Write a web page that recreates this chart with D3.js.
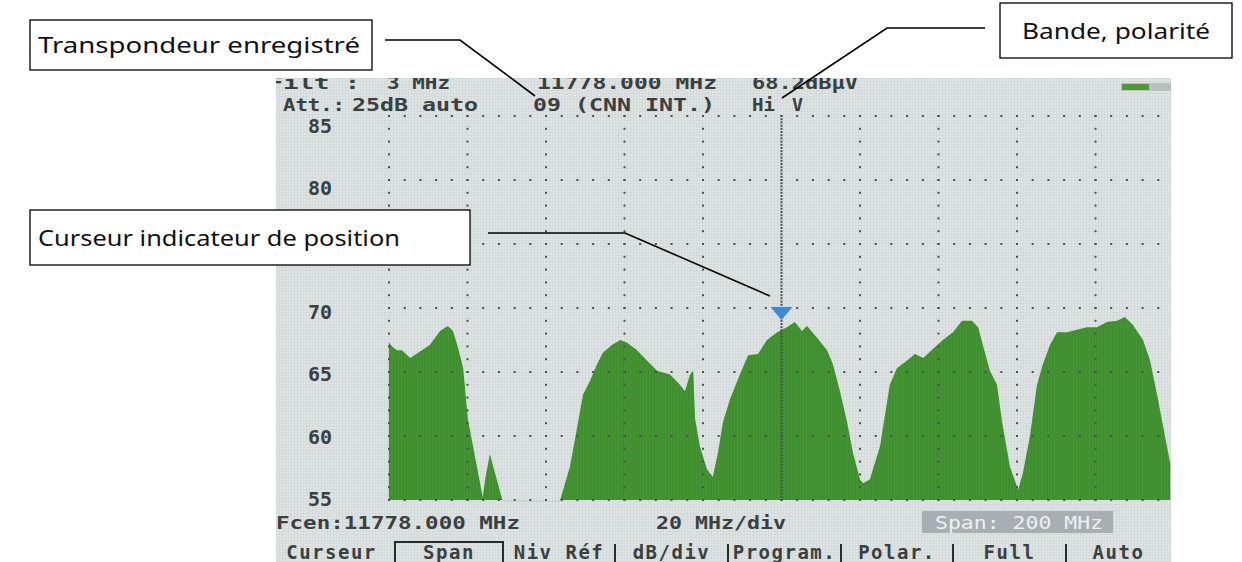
<!DOCTYPE html>
<html>
<head>
<meta charset="utf-8">
<script src="https://cdn.jsdelivr.net/npm/d3@7"></script>
<style>
  body { margin: 0; background: #fff; }
  .lcd { font-family: "DejaVu Sans Mono", "Liberation Mono", monospace; fill: #3a3f3f; font-weight: bold; }
  .note { font-family: "Comic Sans MS", "Noto Sans", sans-serif; fill: #111; }
</style>
</head>
<body>
<svg id="chart" width="1242" height="562"></svg>
<script>
// spectrum: offset from span start (MHz) and level (dBµV)
var freqOffsets = [0, 0.8, 2.0, 3.3, 5.4, 7.9, 10.4, 13.0, 15.0, 16.3, 17.6, 18.9, 20.1, 22.4, 23.9, 24.5, 25.7, 27.0, 28.8,
                   29.0, 43.6, 44.1, 46.1, 47.9, 49.4, 51.2, 53.0, 54.5, 56.8, 58.9, 60.6, 63.2, 65.7, 68.3, 71.6,
                   74.1, 75.4, 76.7, 77.5, 78.0, 79.2, 81.0, 82.5, 83.8, 85.1, 86.9, 89.4, 91.5, 94.0, 96.3, 98.9,
                   101.4, 103.4, 105.2, 106.5, 109.0, 111.6, 113.1, 114.9, 116.7, 118.2, 120.0, 120.8, 122.5, 125.1,
                   127.6, 129.4, 132.0, 134.0, 136.1, 138.6, 141.1, 143.7, 146.0, 148.5, 150.1, 151.3, 153.1, 154.9,
                   156.2, 158.2, 160.3, 161.5, 163.3, 165.1, 166.6, 168.4, 170.2, 172.7, 175.3, 177.8, 180.4, 182.9,
                   185.5, 187.5, 189.5, 192.1, 193.9, 195.7, 197.2, 199.0];
var levels = [67.3, 67.0, 66.7, 66.7, 66.1, 66.6, 67.1, 68.2, 68.6, 68.2, 66.9, 65.3, 61.3, 57.6, 55.2, 56.6, 58.6, 57.1, 55.1,
              55.0, 55.0, 55.5, 57.6, 60.6, 63.2, 64.3, 65.6, 66.5, 67.1, 67.5, 67.3, 66.7, 65.9, 65.1, 64.8,
              64.0, 63.5, 64.8, 65.1, 61.3, 59.2, 57.4, 56.8, 58.7, 61.1, 62.9, 64.8, 66.3, 66.4, 67.5, 68.1,
              68.5, 68.9, 68.2, 68.6, 67.7, 66.7, 65.6, 63.5, 61.1, 58.7, 56.6, 56.3, 56.6, 59.2,
              64.0, 65.3, 65.9, 66.4, 66.1, 66.8, 67.5, 68.1, 69.0, 69.0, 68.5, 67.1, 65.1, 64.0,
              61.1, 57.6, 55.8, 57.1, 60.0, 64.0, 65.6, 67.1, 68.1, 68.1, 68.3, 68.5, 68.5, 68.9,
              69.0, 69.3, 68.7, 67.5, 65.9, 63.2, 60.8, 57.9];

var centerFreq = 11778, spanMHz = 200, mhzPerDiv = 20;
var levelTicks = [55, 60, 65, 70, 75, 80, 85];
var levelLabels = [55, 60, 65, 70, 80, 85];   // 75 sits under the cursor note

var headerRow1 = [["Filt :", 268, 92], ["3 MHz", 387, 63], ["11778.000 MHz", 537, 180], ["68.2dBµV", 752, 106]];
var headerRow2 = [["Att.:", 283, 62], ["25dB auto", 352, 126], ["09 (CNN INT.)", 533, 182], ["Hi", 752, 23], ["V", 792, 11]];
var buttonLabels = ["Curseur", "Span", "Niv Réf", "dB/div", "Program.", "Polar.", "Full", "Auto"];
var notes = ["Transpondeur enregistré", "Bande, polarité", "Curseur indicateur de position"];

var svg = d3.select("#chart");
var startFreq = centerFreq - spanMHz / 2;

var x = d3.scaleLinear().domain([startFreq, startFreq + spanMHz]).range([389, 1174]);
var y = d3.scaleLinear().domain([55, 85]).range([500, 116]);
// the printed level labels run on a slightly tighter pitch than the grid
var yLab = d3.scaleLinear().domain([55, 85]).range([498, 125]);

var spectrum = freqOffsets.map(function (o, i) { return { f: startFreq + o, db: levels[i] }; });

// screen background + lcd pixel texture
var defs = svg.append("defs");
defs.append("clipPath").attr("id", "screen").append("rect")
    .attr("x", 276).attr("y", 78).attr("width", 895).attr("height", 484);
var pat = defs.append("pattern").attr("id", "pix").attr("width", 3).attr("height", 3)
    .attr("patternUnits", "userSpaceOnUse");
pat.append("rect").attr("width", 3).attr("height", 3).attr("fill", "#dfe5e4");
pat.append("path").attr("d", "M0,0.5H3M0.5,0V3").attr("stroke", "#d3dad9").attr("stroke-width", 1);

var screen = svg.append("g").attr("clip-path", "url(#screen)");
screen.append("rect").attr("x", 276).attr("y", 78).attr("width", 895).attr("height", 484).attr("fill", "url(#pix)");

// spectrum
var area = d3.area()
    .x(function (d) { return x(d.f); })
    .y0(y(55))
    .y1(function (d) { return y(d.db); });

screen.append("path").datum(spectrum).attr("d", area).attr("fill", "#3f8f2f");

function interp(f) {
    var i = d3.bisector(function (d) { return d.f; }).left(spectrum, f);
    if (i <= 0) return spectrum[0].db;
    if (i >= spectrum.length) return spectrum[spectrum.length - 1].db;
    var a = spectrum[i - 1], b = spectrum[i], t = (f - a.f) / (b.f - a.f);
    return a.db + t * (b.db - a.db) - 0.15;
}

// thin light columns like the analyser's bars
var colF = d3.range(startFreq, startFreq + spanMHz, 0.8);
screen.append("g").selectAll("line").data(colF).enter().append("line")
    .attr("x1", function (d) { return x(d); }).attr("x2", function (d) { return x(d); })
    .attr("y1", y(55)).attr("y2", function (d) { return y(Math.min(85, interp(d))); })
    .attr("stroke", "#5aa548").attr("stroke-width", 0.6).attr("opacity", 0.6);

// dotted grid
var grid = screen.append("g").attr("fill", "#4a4f50");
var hDots = [];
levelTicks.forEach(function (lv) {
    d3.range(startFreq, startFreq + spanMHz + 0.1, mhzPerDiv / 5).forEach(function (f) { hDots.push([f, lv]); });
});
var vDots = [];
d3.range(startFreq, startFreq + spanMHz + 0.1, mhzPerDiv).forEach(function (f) {
    var step = f === centerFreq ? 0.25 : 1;
    d3.range(55, 85.01, step).forEach(function (lv) { vDots.push([f, lv]); });
});
grid.selectAll("rect.dot").data(hDots.concat(vDots)).enter().append("rect")
    .attr("class", "dot")
    .attr("x", function (d) { return x(d[0]) - 1; })
    .attr("y", function (d) { return y(d[1]) - 1; })
    .attr("width", 2).attr("height", 2);

// level labels
var yAxis = d3.axisLeft(yLab).tickValues(levelLabels).tickSize(0).tickPadding(0);
var ax = screen.append("g").attr("transform", "translate(332,0)").call(yAxis);
ax.select(".domain").remove();
ax.selectAll("text").attr("class", "lcd").attr("font-size", 20)
    .attr("font-family", null).attr("fill", null).attr("dy", "0.36em");

// header readout (top row is partly cut off by the photo)
function lcdRow(rows, yy) {
    screen.append("g").selectAll("text").data(rows).enter().append("text")
        .attr("class", "lcd").attr("font-size", 18)
        .attr("x", function (d) { return d[1]; }).attr("y", yy)
        .attr("textLength", function (d) { return d[2]; })
        .attr("lengthAdjust", "spacingAndGlyphs")
        .text(function (d) { return d[0]; });
}
lcdRow(headerRow1, 89);
lcdRow(headerRow2, 111);

// battery
screen.append("rect").attr("x", 1121).attr("y", 83).attr("width", 52).attr("height", 8).attr("fill", "#b9c0bf");
screen.append("rect").attr("x", 1122).attr("y", 84).attr("width", 27).attr("height", 6).attr("fill", "#4c9a33");

// cursor marker
var cx = x(centerFreq);
screen.append("path")
    .attr("d", "M" + (cx - 11) + "," + (y(70) - 1) + "L" + (cx + 11) + "," + (y(70) - 1) + "L" + cx + "," + (y(70) + 12) + "Z")
    .attr("fill", "#3a8ad6");

// footer readout
screen.append("text").attr("class", "lcd").attr("font-size", 18).attr("x", 276).attr("y", 529)
    .attr("textLength", 244).attr("lengthAdjust", "spacingAndGlyphs")
    .text("Fcen:" + centerFreq.toFixed(3) + " MHz");
screen.append("text").attr("class", "lcd").attr("font-size", 18).attr("x", 656).attr("y", 529)
    .attr("textLength", 130).attr("lengthAdjust", "spacingAndGlyphs")
    .text(mhzPerDiv + " MHz/div");
screen.append("rect").attr("x", 922).attr("y", 511).attr("width", 191).attr("height", 22).attr("fill", "#a7afb2");
screen.append("text").attr("class", "lcd").attr("font-size", 18).attr("x", 935).attr("y", 529)
    .attr("textLength", 168).attr("lengthAdjust", "spacingAndGlyphs")
    .style("fill", "#edf1f1").style("font-weight", "normal")
    .text("Span: " + spanMHz + " MHz");

// soft keys
var btnEdges = [276, 395, 503, 615, 728, 841, 953, 1066, 1171];
screen.append("rect").attr("x", 395).attr("y", 542).attr("width", 108).attr("height", 30)
    .attr("fill", "none").attr("stroke", "#2a2d2d").attr("stroke-width", 2);
screen.append("g").selectAll("line").data(btnEdges.slice(3, 8)).enter().append("line")
    .attr("x1", function (d) { return d; }).attr("x2", function (d) { return d; })
    .attr("y1", 544).attr("y2", 562).attr("stroke", "#2a2d2d").attr("stroke-width", 2);
screen.append("g").selectAll("text").data(buttonLabels).enter().append("text")
    .attr("class", "lcd").attr("font-size", 19).attr("text-anchor", "middle")
    .style("letter-spacing", "1.5px")
    .attr("x", function (d, i) { return (btnEdges[i] + btnEdges[i + 1]) / 2 + (i === 0 ? -4 : 0); })
    .attr("y", 559)
    .text(function (d) { return d; });

// annotations
var leaders = [
    [[385, 40], [460, 40], [535, 96]],
    [[985, 28], [887, 28], [782, 98]],
    [[488, 233], [625, 233], [770, 296]]
];
var boxes = [[30, 20, 342, 50, 38, 322], [1000, 3, 232, 55, 1022, 188], [30, 210, 440, 55, 38, 362]];

svg.append("g").selectAll("path").data(leaders).enter().append("path")
    .attr("d", d3.line()).attr("fill", "none").attr("stroke", "#000").attr("stroke-width", 1.6);

var nb = svg.append("g").selectAll("g").data(notes).enter().append("g");
nb.append("rect")
    .attr("x", function (d, i) { return boxes[i][0]; }).attr("y", function (d, i) { return boxes[i][1]; })
    .attr("width", function (d, i) { return boxes[i][2]; }).attr("height", function (d, i) { return boxes[i][3]; })
    .attr("fill", "#fff").attr("stroke", "#000").attr("stroke-width", 1.3);
nb.append("text").attr("class", "note").attr("font-size", 22)
    .attr("x", function (d, i) { return boxes[i][4]; })
    .attr("y", function (d, i) { return boxes[i][1] + boxes[i][3] / 2 + 8; })
    .attr("textLength", function (d, i) { return boxes[i][5]; })
    .attr("lengthAdjust", "spacingAndGlyphs")
    .text(function (d) { return d; });
</script>
</body>
</html>
